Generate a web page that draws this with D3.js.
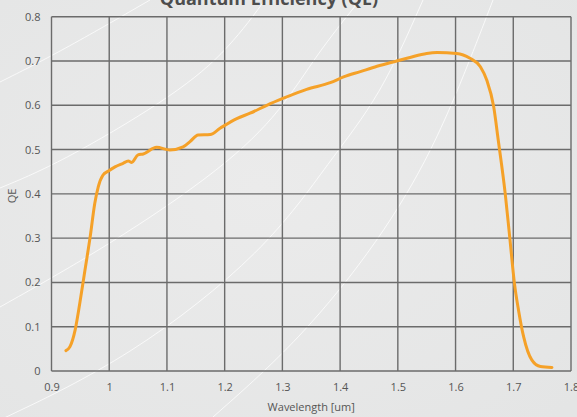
<!DOCTYPE html>
<html>
<head>
<meta charset="utf-8">
<script src="https://cdn.jsdelivr.net/npm/d3@7"></script>
<style>
  html, body { margin: 0; padding: 0; background: #e8e8e8; }
  svg { display: block; }
</style>
</head>
<body>
<script>
// QE curve
var wavelength = [0.925, 0.932, 0.941, 0.949, 0.958, 0.967, 0.975, 0.981, 0.989, 0.998,
  1.010, 1.024, 1.033, 1.039, 1.050, 1.059, 1.082, 1.105, 1.128, 1.140,
  1.154, 1.175, 1.192, 1.221, 1.244, 1.273, 1.302, 1.342, 1.383, 1.406,
  1.435, 1.464, 1.498, 1.521, 1.550, 1.568, 1.602, 1.625, 1.643, 1.654,
  1.666, 1.674, 1.686, 1.694, 1.702, 1.709, 1.718, 1.732, 1.747, 1.767];
var qe = [0.046, 0.055, 0.093, 0.153, 0.228, 0.303, 0.379, 0.416, 0.442, 0.451,
  0.461, 0.469, 0.474, 0.471, 0.488, 0.490, 0.505, 0.499, 0.506, 0.518,
  0.533, 0.534, 0.548, 0.570, 0.582, 0.600, 0.616, 0.636, 0.651, 0.664,
  0.676, 0.688, 0.700, 0.708, 0.717, 0.719, 0.717, 0.706, 0.687, 0.657,
  0.597, 0.521, 0.401, 0.300, 0.198, 0.138, 0.077, 0.025, 0.010, 0.008];

var xTicks = [0.9, 1, 1.1, 1.2, 1.3, 1.4, 1.5, 1.6, 1.7, 1.8];
var yTicks = [0, 0.1, 0.2, 0.3, 0.4, 0.5, 0.6, 0.7, 0.8];

var width = 577, height = 417;
var margin = {top: 16.7, right: 6, bottom: 46, left: 51.5};

var svg = d3.select("body").append("svg")
  .attr("width", width)
  .attr("height", height);

// background
var defs = svg.append("defs");
var grad = defs.append("radialGradient").attr("id", "bg")
  .attr("cx", "45%").attr("cy", "45%").attr("r", "75%");
grad.append("stop").attr("offset", "0%").attr("stop-color", "#ebebeb");
grad.append("stop").attr("offset", "100%").attr("stop-color", "#e4e5e5");
svg.append("rect").attr("width", width).attr("height", height).attr("fill", "url(#bg)");

// decorative white swooshes behind the chart
var swoosh = d3.line().curve(d3.curveBasis);
var swooshes = [
  [[0, 82], [60, 52], [150, 0]],
  [[0, 188], [60, 163], [167, 100], [224, 55], [265, 0]],
  [[0, 307], [110, 245], [225, 167], [282, 110], [316, 55], [360, 0]],
  [[0, 420], [130, 358], [267, 250], [330, 160], [380, 97], [423, 0]],
  [[213, 417], [300, 340], [380, 240], [433, 150], [470, 60], [493, 0]]
];
svg.append("g").selectAll("path").data(swooshes).join("path")
  .attr("d", swoosh)
  .attr("fill", "none")
  .attr("stroke", "#ffffff")
  .attr("stroke-opacity", 0.75)
  .attr("stroke-width", 1);

var x = d3.scaleLinear().domain([0.9, 1.8]).range([margin.left, width - margin.right]);
var y = d3.scaleLinear().domain([0, 0.8]).range([height - margin.bottom, margin.top]);

var font = "'Open Sans', 'DejaVu Sans', sans-serif";

// grid
var grid = svg.append("g").attr("stroke", "#6b6b6b").attr("stroke-width", 1.4);
grid.selectAll(".v").data(xTicks).join("line")
  .attr("x1", d => x(d)).attr("x2", d => x(d))
  .attr("y1", y(0)).attr("y2", y(0.8));
grid.selectAll(".h").data(yTicks).join("line")
  .attr("x1", x(0.9)).attr("x2", x(1.8))
  .attr("y1", d => y(d)).attr("y2", d => y(d));

// axes (labels only)
var xAxis = svg.append("g")
  .attr("transform", "translate(0," + y(0) + ")")
  .call(d3.axisBottom(x).tickValues(xTicks).tickSize(0).tickPadding(12)
    .tickFormat(d => d3.format("")(+d.toFixed(1))));
var yAxis = svg.append("g")
  .attr("transform", "translate(" + x(0.9) + ",0)")
  .call(d3.axisLeft(y).tickValues(yTicks).tickSize(0).tickPadding(11)
    .tickFormat(d => d3.format("")(+d.toFixed(1))));
[xAxis, yAxis].forEach(function (a) {
  a.select(".domain").remove();
  a.selectAll("text").attr("fill", "#555").style("font-family", font).style("font-size", "11px");
});

// the QE curve
var line = d3.line()
  .x((d, i) => x(wavelength[i]))
  .y(d => y(d))
  .curve(d3.curveMonotoneX);
svg.append("path")
  .datum(qe)
  .attr("d", line)
  .attr("fill", "none")
  .attr("stroke", "#f5a128")
  .attr("stroke-width", 3)
  .attr("stroke-linecap", "round")
  .attr("stroke-linejoin", "round");

// titles
svg.append("text")
  .attr("x", 269).attr("y", 4.5)
  .attr("text-anchor", "middle")
  .attr("fill", "#4d4d4d")
  .style("font-family", font).style("font-size", "18px").style("font-weight", "bold")
  .text("Quantum Efficiency (QE)");

svg.append("text")
  .attr("x", (x.range()[0] + x.range()[1]) / 2).attr("y", 411)
  .attr("text-anchor", "middle")
  .attr("fill", "#555")
  .style("font-family", font).style("font-size", "11px")
  .text("Wavelength [um]");

svg.append("text")
  .attr("transform", "translate(16,196)rotate(-90)")
  .attr("text-anchor", "middle")
  .attr("fill", "#555")
  .style("font-family", font).style("font-size", "11px")
  .text("QE");
</script>
</body>
</html>
